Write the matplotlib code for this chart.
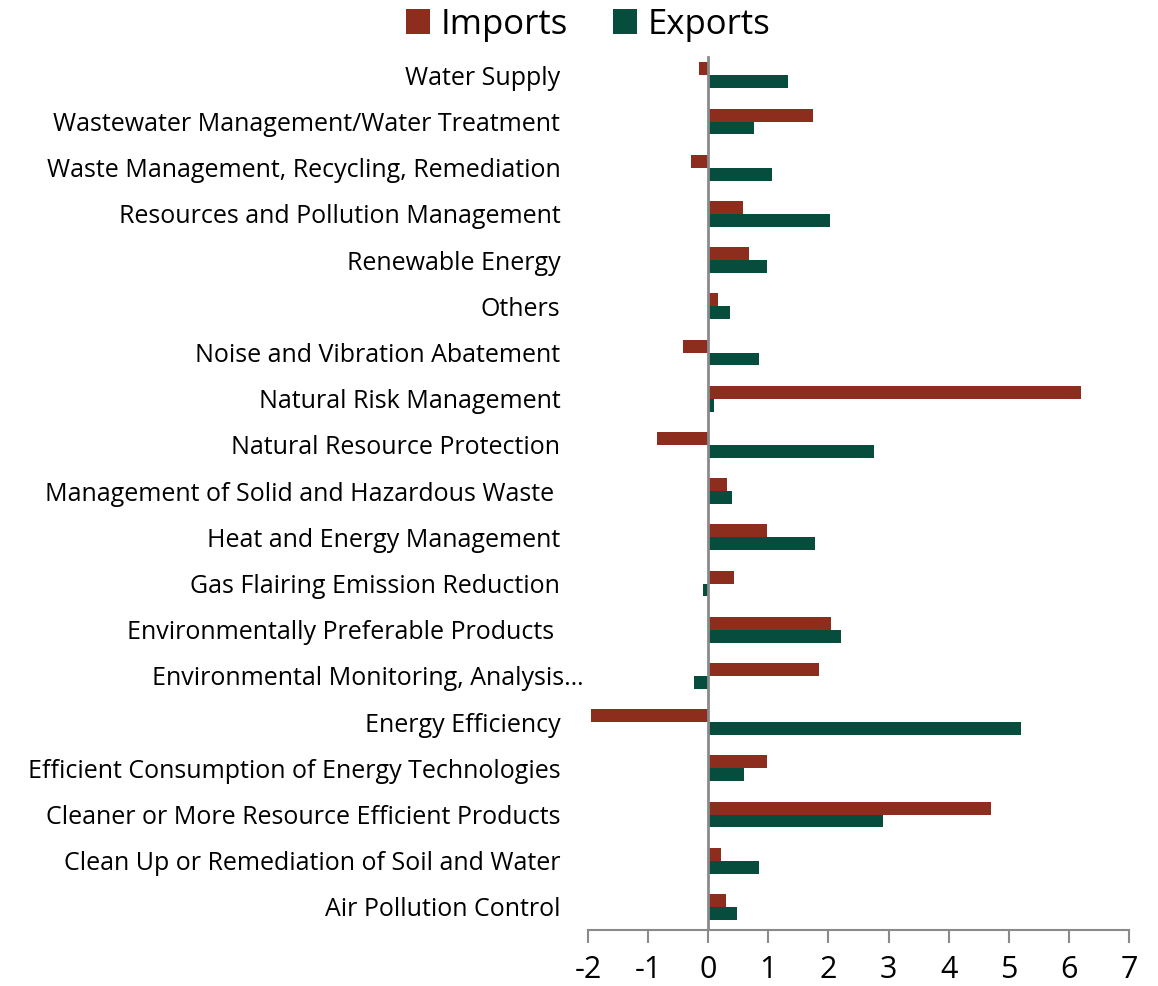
import numpy as np
import matplotlib
matplotlib.use("Agg")
import matplotlib.pyplot as plt
import matplotlib.transforms as mtrans

plt.rcParams['font.family'] = ['Open Sans', 'DejaVu Sans']

# categories from top to bottom
categorias = [
    "Water Supply",
    "Wastewater Management/Water Treatment",
    "Waste Management, Recycling, Remediation",
    "Resources and Pollution Management",
    "Renewable Energy",
    "Others",
    "Noise and Vibration Abatement",
    "Natural Risk Management",
    "Natural Resource Protection",
    "Management of Solid and Hazardous Waste ",
    "Heat and Energy Management",
    "Gas Flairing Emission Reduction",
    "Environmentally Preferable Products ",
    "Environmental Monitoring, Analysis\u2026",
    "Energy Efficiency",
    "Efficient Consumption of Energy Technologies",
    "Cleaner or More Resource Efficient Products",
    "Clean Up or Remediation of Soil and Water",
    "Air Pollution Control",
]
imports = [-0.15, 1.75, -0.29, 0.58, 0.68, 0.16, -0.42, 6.2, -0.85, 0.31,
           0.97, 0.43, 2.05, 1.85, -1.95, 0.97, 4.7, 0.21, 0.3]
exports = [1.33, 0.76, 1.06, 2.02, 0.97, 0.36, 0.84, 0.1, 2.75, 0.39,
           1.78, -0.09, 2.2, -0.24, 5.2, 0.6, 2.9, 0.85, 0.48]
xticks = [-2, -1, 0, 1, 2, 3, 4, 5, 6, 7]

col_imp = '#8C2D1E'
col_exp = '#074D3D'

fig = plt.figure(figsize=(11.58, 9.86), dpi=100)
ax = fig.add_axes([0.5078, 0.0568, 0.975 - 0.5078, 0.947 - 0.0568])

n = len(categorias)
y = np.arange(n)[::-1]
h = 0.28
ax.barh(y + h / 2, imports, height=h, color=col_imp, label='Imports')
ax.barh(y - h / 2, exports, height=h, color=col_exp, label='Exports')

# linea del cero
ax.axvline(0, ymax=0.995, color='#8a8a8a', lw=2, zorder=3)

ax.set_xlim(-2, 7)
ax.set_ylim(-0.5, n - 0.5)
ax.set_xticks(xticks)
ax.set_xticklabels([str(t) for t in xticks], fontsize=22)
ax.set_yticks(y)
ax.set_yticklabels(categorias, fontsize=18)
ax.tick_params(axis='y', length=0, pad=20)
ax.tick_params(axis='x', length=9, width=1.5, color='#8a8a8a', pad=9, direction='out')

for s in ['left', 'right', 'top']:
    ax.spines[s].set_visible(False)
ax.spines['bottom'].set_color('#8a8a8a')
ax.spines['bottom'].set_linewidth(1.5)

# the truncated label sits a bit further right
for lbl in ax.get_yticklabels():
    if lbl.get_text().startswith("Environmental Monitoring"):
        lbl.set_transform(lbl.get_transform() + mtrans.ScaledTranslation(23 / 100, 0, fig.dpi_scale_trans))

fig.legend(loc='upper center', bbox_to_anchor=(0.508, 1.024), ncol=2, frameon=False,
           fontsize=25, handlelength=0.7, handleheight=0.7, handletextpad=0.3,
           columnspacing=1.3)

plt.savefig('out.png', dpi=100)
